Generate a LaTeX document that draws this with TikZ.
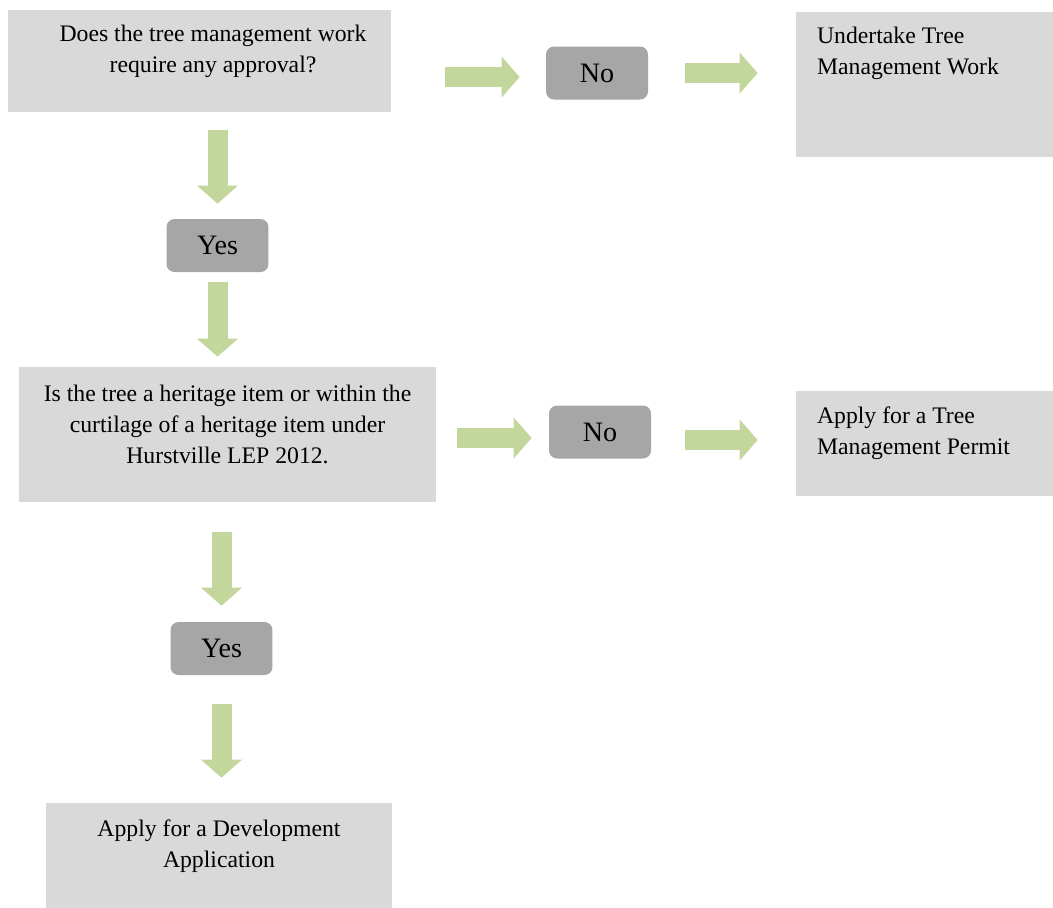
\documentclass[tikz,border=0pt]{standalone}
\usepackage{fontspec}
\setmainfont{Liberation Serif}
\usepackage{tikz}
\usetikzlibrary{arrows.meta}
\usetikzlibrary{positioning}
\definecolor{boxgray}{HTML}{D9D9D9}
\definecolor{choicegray}{HTML}{A6A6A6}
\definecolor{arrowgreen}{HTML}{C3D69B}

\tikzset{
  box/.style={fill=boxgray, inner sep=0pt},
  choice/.style={fill=choicegray, rounded corners=0.16cm, minimum width=2.04cm,
    minimum height=1.06cm, inner sep=0pt, font=\fontsize{16}{19}\selectfont},
  midtext/.style={anchor=north, align=center, inner sep=0pt,
    font=\fontsize{13.5}{17.6}\selectfont},
  lefttext/.style={anchor=north west, align=left, inner sep=0pt, xshift=0.42cm,
    font=\fontsize{13.5}{17.6}\selectfont},
  bigarrow/.style={draw=arrowgreen, line width=0.4cm, line cap=butt,
    -{Triangle[width=0.8cm, length=0.36cm]}}
}

\begin{document}
\begin{tikzpicture}[x=0.02cm, y=-0.02cm]
    \useasboundingbox (0, 0) rectangle (1053, 907);

    \node(q1) [box, minimum width=7.66cm, minimum height=2.04cm,
      label={[midtext, xshift=0.27cm, yshift=-0.31cm]north:Does the tree management work\\require any approval?}] at (199.5, 61) {};
    \node(no1) [choice] at (597, 73) {No};
    \node(work) [box, minimum width=5.14cm, minimum height=2.9cm,
      label={[lefttext, yshift=-0.31cm]north west:Undertake Tree\\Management Work}] at (924.5, 84.5) {};

    \node(yes1) [choice] at (217.5, 245.5) {Yes};

    \node(q2) [box, minimum width=8.34cm, minimum height=2.7cm,
      label={[midtext, yshift=-0.36cm]north:Is the tree a heritage item or within the\\curtilage of a heritage item under\\Hurstville LEP 2012.}] at (227.5, 434.5) {};
    \node(no2) [choice] at (600, 432) {No};
    \node(permit) [box, minimum width=5.14cm, minimum height=2.1cm,
      label={[lefttext, yshift=-0.31cm]north west:Apply for a Tree\\Management Permit}] at (924.5, 443.5) {};

    \node(yes2) [choice] at (221.5, 648.5) {Yes};
    \node(app) [box, minimum width=6.92cm, minimum height=2.16cm,
      label={[midtext, yshift=-0.34cm]north:Apply for a Development\\Application}] at (219, 857) {};

    % sideways arrows
    \draw[bigarrow, shorten <= 1.08cm, shorten >= 0.52cm] ([yshift=-0.08cm]q1.east |- no1) -- ([yshift=-0.08cm]no1.west);
    \draw[bigarrow, shorten <= 0.74cm, shorten >= 0.76cm] (no1) -- (no1 -| work.west);
    \draw[bigarrow, shorten <= 0.42cm, shorten >= 0.34cm] ([yshift=-0.12cm]q2.east |- no2) -- ([yshift=-0.12cm]no2.west);
    \draw[bigarrow, shorten <= 0.68cm, shorten >= 0.76cm] ([yshift=-0.16cm]no2.east) -- ([yshift=-0.16cm]no2 -| permit.west);

    % downward arrows
    \draw[bigarrow, shorten <= 0.36cm, shorten >= 0.3cm] (q1.south -| yes1) -- (yes1);
    \draw[bigarrow, shorten <= 0.2cm, shorten >= 0.2cm] (yes1) -- (yes1 |- q2.north);
    \draw[bigarrow, shorten <= 0.6cm, shorten >= 0.32cm] (q2.south -| yes2) -- (yes2);
    \draw[bigarrow, shorten <= 0.58cm, shorten >= 0.5cm] (yes2) -- (yes2 |- app.north);
\end{tikzpicture}
\end{document}
